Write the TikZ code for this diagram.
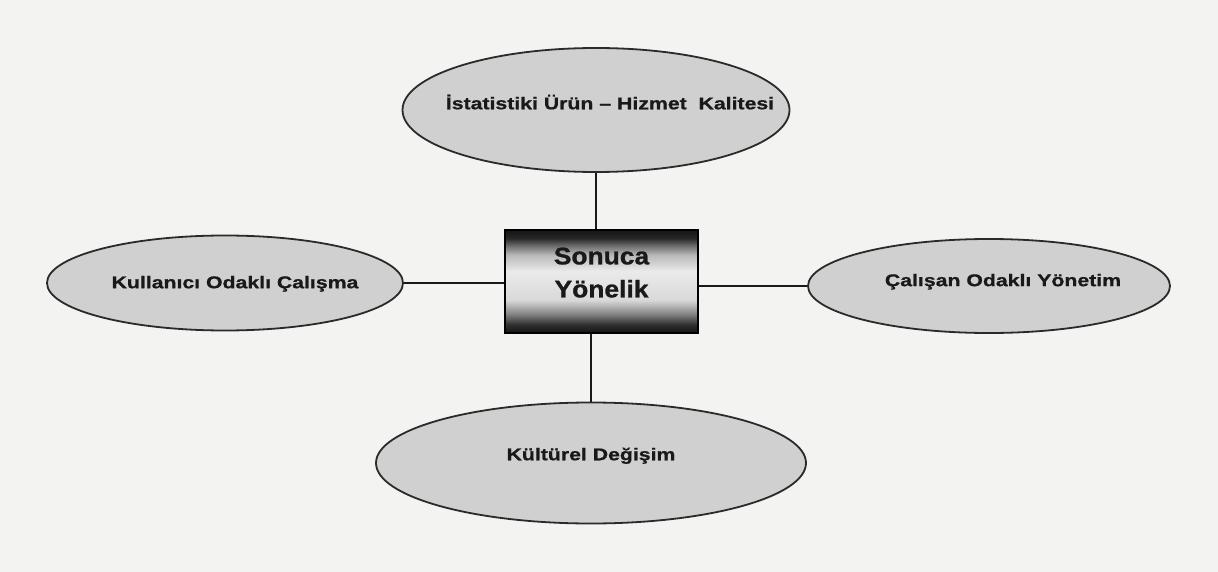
\documentclass[tikz,border=0pt]{standalone}
\usepackage{fontspec}
\setmainfont{Liberation Sans}
\newfontfamily\lblfont[FakeStretch=1.25,FakeBold=0.8]{Liberation Sans Bold}
\newfontfamily\ctrfont[FakeStretch=1.1,FakeBold=1]{Liberation Sans Bold}
\usetikzlibrary{shapes.geometric}
\definecolor{bgc}{HTML}{F3F3F2}
\definecolor{ellfill}{HTML}{D0D0D0}
\definecolor{ellline}{HTML}{2A2A2A}
\pgfdeclareverticalshading{cylshade}{100bp}{color(0bp)=(black!92); color(25bp)=(black!92); color(29bp)=(black!82); color(34bp)=(black!50); color(41bp)=(white!85!black); color(55bp)=(white!92!black); color(63bp)=(white!72!black); color(68bp)=(black!62); color(71bp)=(black!85); color(75bp)=(black!92); color(100bp)=(black!92)}
\tikzset{
  oval/.style={ellipse, draw=ellline, line width=1.8pt, fill=ellfill, inner sep=0pt,
    font=\lblfont\fontsize{17}{19}\selectfont, text=black!90},
  ctrbox/.style={rectangle, draw=black, line width=1.2pt, shading=cylshade, inner sep=0pt,
    minimum width=193pt, minimum height=103pt, align=center,
    font=\ctrfont\fontsize{24}{33}\selectfont, text=black!90},
  link/.style={draw=black!90, line width=1.8pt}
}
\begin{document}
\begin{tikzpicture}[x=1pt,y=-1pt]
\fill[bgc] (0,0) rectangle (1218,572);
\useasboundingbox (0,0) rectangle (1218,572);
\node[ctrbox] (c) at (601.5,281.5) {Sonuca\\Yönelik\rule[-18pt]{0pt}{0pt}};
\node[oval, minimum width=387pt, minimum height=124pt] (t) at (596,110) {\makebox[0pt]{\hspace{28pt}İstatistiki Ürün – Hizmet\ \ Kalitesi}\rule[-16pt]{0pt}{0pt}};
\node[oval, minimum width=356pt, minimum height=95pt] (l) at (225,283) {\makebox[0pt]{\hspace{20pt}Kullanıcı Odaklı Çalışma}\rule{0pt}{14pt}};
\node[oval, minimum width=362pt, minimum height=94pt] (r) at (989,286) {\makebox[0pt]{\hspace{28pt}Çalışan Odaklı Yönetim}\rule[-12pt]{0pt}{0pt}};
\node[oval, minimum width=430pt, minimum height=121pt] (b) at (591,463) {\makebox[0pt]{Kültürel Değişim}\rule[-18pt]{0pt}{0pt}};
\draw[link] (t.south) -- (t.south |- c.north);
\draw[link] (l.east) -- (c.west |- l.east);
\draw[link] (c.east |- r.west) -- (r.west);
\draw[link] (c.south -| b.north) -- (b.north);
\end{tikzpicture}
\end{document}
